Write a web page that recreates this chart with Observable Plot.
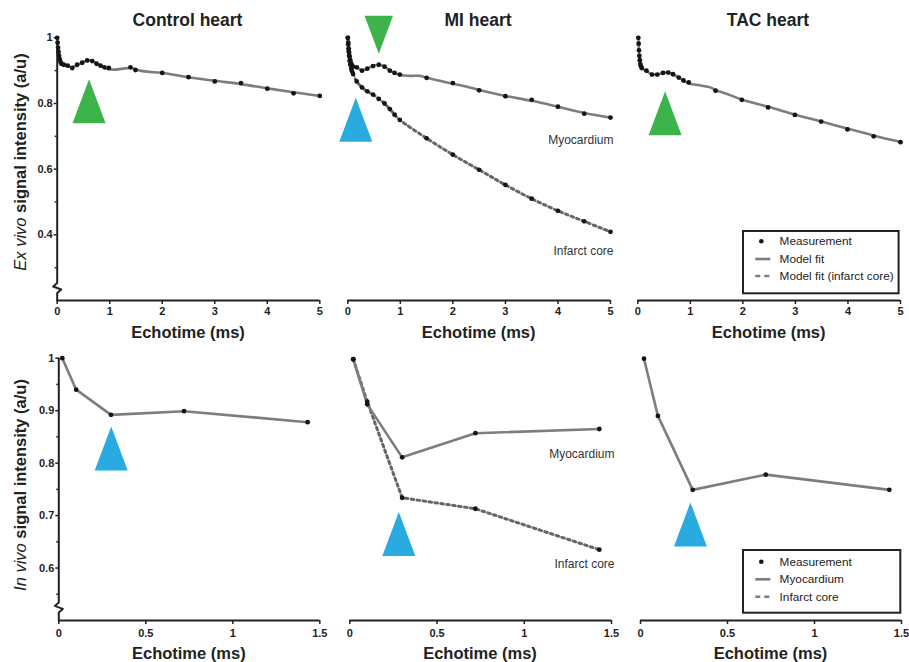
<!DOCTYPE html>
<html><head><meta charset="utf-8">
<script src="https://cdn.jsdelivr.net/npm/d3@7"></script>
<script src="https://cdn.jsdelivr.net/npm/@observablehq/plot@0.6"></script>
<style>
body{margin:0;background:#fff;}
#wrap{position:relative;width:909px;height:662px;overflow:hidden;font-family:'Liberation Sans',Arial,sans-serif;color:#222;background:#fff;}
.lab{position:absolute;white-space:nowrap;font-weight:bold;line-height:1;}
.title{font-size:17.5px;transform:translate(-50%,-50%);}
.xl{font-size:16.5px;transform:translate(-50%,-50%);}
.yl{font-size:16.5px;transform:translate(-50%,-50%) rotate(-90deg);}
.yl i{font-weight:normal;}
</style></head>
<body><div id="wrap"></div>
<script>
// ---------------- DATA ----------------
const panelTitles = ["Control heart", "MI heart", "TAC heart"];
const xLabel = "Echotime (ms)";

// Ex vivo (top row) – echotime (ms) and signal intensity
const exCtrlT = [0, 0.008, 0.016, 0.025, 0.035, 0.048, 0.063, 0.08, 0.126, 0.2, 0.286, 0.38, 0.476, 0.571, 0.667, 0.749, 0.825, 0.9, 0.983, 1.396, 1.49, 2.0, 2.5, 3.0, 3.5, 4.0, 4.5, 5.0];
const exCtrlV = [1.0, 0.985, 0.97, 0.957, 0.945, 0.935, 0.926, 0.921, 0.918, 0.915, 0.908, 0.918, 0.924, 0.931, 0.929, 0.921, 0.915, 0.910, 0.908, 0.910, 0.902, 0.893, 0.880, 0.867, 0.862, 0.845, 0.831, 0.823];
const exCtrlFitT = [0, 0.016, 0.035, 0.063, 0.1, 0.2, 0.29, 0.38, 0.48, 0.58, 0.67, 0.75, 0.83, 0.9, 1.0, 1.1, 1.25, 1.4, 1.52, 1.7, 2.0, 2.5, 3.0, 3.5, 4.0, 4.5, 5.0];
const exCtrlFitV = [1.0, 0.97, 0.945, 0.926, 0.919, 0.914, 0.910, 0.917, 0.925, 0.931, 0.929, 0.922, 0.915, 0.909, 0.904, 0.903, 0.906, 0.908, 0.902, 0.897, 0.893, 0.880, 0.869, 0.859, 0.846, 0.834, 0.823];

const exMiT = [0, 0.008, 0.016, 0.025, 0.035, 0.048, 0.065, 0.08, 0.1, 0.17, 0.27, 0.37, 0.48, 0.59, 0.70, 0.80, 0.89, 0.99, 1.5, 2.0, 2.5, 3.0, 3.5, 4.0, 4.5, 5.0];
const exMiMyoV = [1.0, 0.985, 0.968, 0.955, 0.943, 0.932, 0.922, 0.915, 0.912, 0.910, 0.900, 0.906, 0.914, 0.918, 0.912, 0.900, 0.893, 0.888, 0.878, 0.862, 0.840, 0.822, 0.811, 0.790, 0.769, 0.757];
const exMiInfV = [1.0, 0.98, 0.96, 0.945, 0.93, 0.918, 0.906, 0.898, 0.890, 0.867, 0.849, 0.837, 0.827, 0.814, 0.800, 0.783, 0.766, 0.750, 0.694, 0.644, 0.598, 0.552, 0.510, 0.473, 0.441, 0.409];
const exMiMyoFitT = [0, 0.016, 0.035, 0.065, 0.1, 0.17, 0.27, 0.37, 0.48, 0.59, 0.70, 0.80, 0.89, 1.0, 1.2, 1.38, 1.5, 1.7, 2.0, 2.27, 2.5, 3.0, 3.5, 4.0, 4.5, 5.0];
const exMiMyoFitV = [1.0, 0.968, 0.943, 0.922, 0.912, 0.909, 0.901, 0.906, 0.914, 0.918, 0.912, 0.900, 0.893, 0.887, 0.884, 0.884, 0.878, 0.871, 0.860, 0.851, 0.841, 0.823, 0.808, 0.790, 0.771, 0.757];

const exTacT = [0.01, 0.016, 0.022, 0.03, 0.038, 0.048, 0.06, 0.075, 0.165, 0.27, 0.37, 0.48, 0.58, 0.67, 0.78, 0.87, 0.97, 1.48, 1.98, 2.48, 2.99, 3.49, 3.99, 4.49, 5.0];
const exTacV = [1.0, 0.982, 0.962, 0.945, 0.932, 0.92, 0.913, 0.908, 0.900, 0.888, 0.888, 0.893, 0.894, 0.889, 0.879, 0.870, 0.864, 0.839, 0.811, 0.788, 0.765, 0.745, 0.721, 0.700, 0.682];
const exTacFitT = [0.01, 0.022, 0.038, 0.06, 0.1, 0.165, 0.27, 0.37, 0.48, 0.58, 0.67, 0.78, 0.87, 0.97, 1.19, 1.38, 1.48, 1.7, 1.98, 2.5, 3.0, 3.5, 4.0, 4.5, 5.0];
const exTacFitV = [1.0, 0.962, 0.932, 0.913, 0.905, 0.898, 0.889, 0.888, 0.893, 0.894, 0.889, 0.879, 0.870, 0.861, 0.855, 0.849, 0.841, 0.829, 0.812, 0.789, 0.766, 0.745, 0.723, 0.702, 0.683];

// In vivo (bottom row)
const inT = [0.02, 0.1, 0.3, 0.72, 1.43];
const inCtrlV = [1.0, 0.940, 0.892, 0.899, 0.878];
const inMiMyoV = [0.998, 0.912, 0.811, 0.857, 0.865];
const inMiInfV = [0.998, 0.917, 0.734, 0.713, 0.635];
const inTacV = [0.999, 0.890, 0.749, 0.778, 0.749];

// axis ticks
const exXTicks = [0, 1, 2, 3, 4, 5];
const exYTicks = [0.4, 0.6, 0.8, 1];
const exYMinor = [0.3, 0.5, 0.7, 0.9];
const inXTicks = [0, 0.5, 1, 1.5];
const inYTicks = [0.6, 0.7, 0.8, 0.9, 1];
const inYMinor = [0.55, 0.65, 0.75, 0.85, 0.95];

// arrowhead annotations (data coordinates)
const exCtrlGreen = [{t: 0.606, v: 0.807}];
const exMiGreen = [{t: 0.59, v: 1.009}];
const exMiBlue = [{t: 0.152, v: 0.7505}];
const exTacGreen = [{t: 0.52, v: 0.770}];
const inCtrlBlue = [{t: 0.301, v: 0.828}];
const inMiBlue = [{t: 0.281, v: 0.665}];
const inTacBlue = [{t: 0.287, v: 0.683}];

const exMiLabels = [{t: 5, v: 0.689, s: "Myocardium"}, {t: 5, v: 0.350, s: "Infarct core"}];
const inMiLabels = [{t: 1.5, v: 0.818, s: "Myocardium"}, {t: 1.5, v: 0.607, s: "Infarct core"}];

const exLegend = ["Measurement", "Model fit", "Model fit (infarct core)"];
const inLegend = ["Measurement", "Myocardium", "Infarct core"];

// ---------------- STYLE ----------------
const AX = "#222", LINE = "#7d7d7d", DOT = "#151515", GREEN = "#3cb44b", BLUE = "#29abe2";
const FONT = "'Liberation Sans', Arial, sans-serif";
const fmt = d3.format("~g");
const rows = (T, V) => T.map((t, i) => ({t, v: V[i]}));
const tallTri = {draw(ctx, size) { const r = Math.sqrt(size / Math.PI); ctx.moveTo(0, -r); ctx.lineTo(0.75 * r, r); ctx.lineTo(-0.75 * r, r); ctx.closePath(); }};

const wrap = document.getElementById("wrap");

function panel(cfg) {
  const {left, top, width, height, ml, mr, mt, mb, xDomain, yDomain, xTicks, yTicks, yMinor, yBreak, showY, xPad, marks} = cfg;
  const pw = width - ml - mr, ph = height - mt - mb;
  const ux = (xDomain[1] - xDomain[0]) / pw, uy = (yDomain[1] - yDomain[0]) / ph;
  const all = [];
  all.push(Plot.ruleY([yDomain[0]], {x1: xDomain[0], x2: xDomain[1], stroke: AX, strokeWidth: 2.2}));
  all.push(Plot.axisX({ticks: xTicks, tickSize: 4, tickPadding: xPad, tickFormat: fmt, label: null, strokeWidth: 1.5}));
  if (showY) {
    const x0 = xDomain[0];
    const axisPath = [
      {t: x0, v: yDomain[1]},
      {t: x0, v: yBreak + 5 * uy},
      {t: x0 - 4 * ux, v: yBreak + 1.5 * uy},
      {t: x0 + 4 * ux, v: yBreak - 1.5 * uy},
      {t: x0, v: yBreak - 5 * uy},
      {t: x0, v: yDomain[0]}
    ];
    all.push(Plot.line(axisPath, {x: "t", y: "v", stroke: AX, strokeWidth: 2}));
    all.push(Plot.axisY({ticks: yTicks, tickSize: 3, tickPadding: 1.5, tickFormat: fmt, label: null, strokeWidth: 1.5}));
    all.push(Plot.axisY({ticks: yMinor, tickSize: 2, tickFormat: () => "", label: null, strokeWidth: 1.5}));
  }
  all.push(...marks);
  const svg = Plot.plot({
    width, height, marginLeft: ml, marginRight: mr, marginTop: mt, marginBottom: mb,
    x: {domain: xDomain}, y: showY ? {domain: yDomain} : {domain: yDomain, axis: null},
    style: {position: "absolute", left: left + "px", top: top + "px", overflow: "visible", background: "transparent",
            fontFamily: FONT, fontSize: "11px", fontWeight: "bold", color: AX, maxWidth: "none"},
    marks: all
  });
  wrap.appendChild(svg);
}

const fitLine = (d, extra = {}) => Plot.line(d, {x: "t", y: "v", curve: "catmull-rom", stroke: LINE, strokeWidth: 2.6, ...extra});
const dotted = {strokeDasharray: "2.6,3.4", stroke: "#666", strokeWidth: 3};
const meas = d => Plot.dot(d, {x: "t", y: "v", r: 2.4, fill: DOT});
const tri = (d, color, r = 22, rotate = 0) => Plot.dot(d, {x: "t", y: "v", r, symbol: tallTri, fill: color, rotate});
const annot = d => Plot.text(d, {x: "t", y: "v", text: "s", textAnchor: "end", dx: 3, fontWeight: "normal", fontSize: 12, fill: "#333"});

const topRow = {top: 20, height: 320, mt: 17.3, mb: 40, xDomain: [0, 5], yDomain: [0.2, 1], xTicks: exXTicks, yTicks: exYTicks, yMinor: exYMinor, yBreak: 0.238, xPad: 3};
const botRow = {top: 340, height: 322, mt: 17.7, mb: 42, xDomain: [0, 1.5], yDomain: [0.5, 1], xTicks: inXTicks, yTicks: inYTicks, yMinor: inYMinor, yBreak: 0.525, xPad: 5};

// top row
panel({...topRow, left: 0, width: 330, ml: 56.7, mr: 10.7, showY: true, marks: [
  fitLine(rows(exCtrlFitT, exCtrlFitV)), meas(rows(exCtrlT, exCtrlV)), tri(exCtrlGreen, GREEN)
]});
panel({...topRow, left: 290, width: 330, ml: 57.3, mr: 10, showY: false, marks: [
  fitLine(rows(exMiT, exMiInfV), dotted), fitLine(rows(exMiMyoFitT, exMiMyoFitV)),
  meas(rows(exMiT, exMiInfV)), meas(rows(exMiT, exMiMyoV)),
  tri(exMiGreen, GREEN, 19, 180), tri(exMiBlue, BLUE), annot(exMiLabels)
]});
panel({...topRow, left: 580, width: 329, ml: 57.3, mr: 9, showY: false, marks: [
  fitLine(rows(exTacFitT, exTacFitV)), meas(rows(exTacT, exTacV)), tri(exTacGreen, GREEN)
]});

// bottom row
const straight = (T, V, extra = {}) => Plot.line(rows(T, V), {x: "t", y: "v", stroke: LINE, strokeWidth: 2.6, ...extra});
panel({...botRow, left: 0, width: 330, ml: 58.3, mr: 10.7, showY: true, marks: [
  straight(inT, inCtrlV), meas(rows(inT, inCtrlV)), tri(inCtrlBlue, BLUE)
]});
panel({...botRow, left: 290, width: 330, ml: 59.3, mr: 9, showY: false, marks: [
  straight(inT, inMiInfV, dotted), straight(inT, inMiMyoV),
  meas(rows(inT, inMiInfV)), meas(rows(inT, inMiMyoV)), tri(inMiBlue, BLUE), annot(inMiLabels)
]});
panel({...botRow, left: 580, width: 329, ml: 60, mr: 8, showY: false, marks: [
  straight(inT, inTacV), meas(rows(inT, inTacV)), tri(inTacBlue, BLUE)
]});

// text labels
function label(cls, html, x, y) {
  const d = document.createElement("div");
  d.className = "lab " + cls; d.innerHTML = html;
  d.style.left = x + "px"; d.style.top = y + "px";
  wrap.appendChild(d);
}
[187.5, 478, 768].forEach((x, i) => label("title", panelTitles[i], x, 21));
[188, 478.7, 768.7].forEach(x => label("xl", xLabel, x, 331.7));
[188.8, 480, 770.5].forEach(x => label("xl", xLabel, x, 653));
label("yl", "<i>Ex vivo</i> signal intensity (a/u)", 20, 161.5);
label("yl", "<i>In vivo</i> signal intensity (a/u)", 20, 485);

// legends
function legend(items, left, top, w, h, rowYs) {
  const svg = d3.create("svg").attr("width", w).attr("height", h)
    .style("position", "absolute").style("left", left + "px").style("top", top + "px").style("overflow", "visible");
  svg.append("rect").attr("x", 0).attr("y", 0).attr("width", w).attr("height", h)
    .attr("fill", "#fff").attr("stroke", AX).attr("stroke-width", 2);
  items.forEach((s, i) => {
    const y = rowYs[i];
    if (i === 0) svg.append("circle").attr("cx", 18.3).attr("cy", y).attr("r", 2.3).attr("fill", DOT);
    else svg.append("line").attr("x1", 12.3).attr("x2", 27.3).attr("y1", y).attr("y2", y)
      .attr("stroke", LINE).attr("stroke-width", 2.6).attr("stroke-dasharray", i === 2 ? "5,4" : null);
    svg.append("text").attr("x", 36.6).attr("y", y).attr("dy", "0.35em").text(s)
      .attr("font-family", FONT).attr("font-size", 11.8).attr("fill", "#222");
  });
  wrap.appendChild(svg.node());
}
legend(exLegend, 742.7, 231, 155.6, 62.3, [10.2, 28, 45]);
legend(inLegend, 742.7, 550, 157.3, 62.7, [11.7, 29.3, 46.7]);
</script></body></html>
